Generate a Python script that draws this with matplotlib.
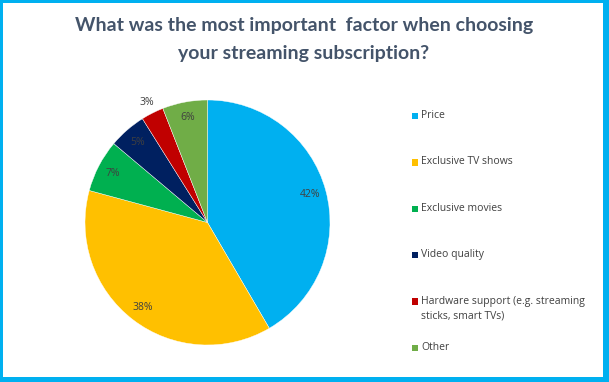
import numpy as np
import matplotlib.pyplot as plt
from matplotlib.patches import Rectangle

# data
factors = ['Price', 'Exclusive TV shows', 'Exclusive movies', 'Video quality',
           'Hardware support (e.g. streaming\nsticks, smart TVs)', 'Other']
shares = [42, 38, 7, 5, 3, 6]
colors = ['#00B0F0', '#FFC000', '#00B050', '#002060', '#C00000', '#70AD47']

W, H = 609, 382
fig = plt.figure(figsize=(W / 100, H / 100), dpi=100)
fig.patch.set_facecolor('#00B0F0')
bg = fig.add_axes([3 / W, 5 / H, 600 / W, 374 / H], zorder=-10)
bg.set_facecolor('white')
bg.set_xticks([])
bg.set_yticks([])
for s in bg.spines.values():
    s.set_visible(False)

# title
fig.text(304 / W, 1 - 26 / H, 'What was the most important  factor when choosing',
         ha='center', va='center', fontsize=14, fontweight='bold', color='#44546A', family='Lato')
fig.text(304 / W, 1 - 54 / H, 'your streaming subscription?',
         ha='center', va='center', fontsize=14, fontweight='bold', color='#44546A', family='Lato')

# pie
cx, cy, r = 207.5, 222.5, 122.5
ax = fig.add_axes([(cx - r) / W, (H - cy - r) / H, 2 * r / W, 2 * r / H])
wedges, texts, autotexts = ax.pie(shares, colors=colors, startangle=90, counterclock=False,
                                  autopct='%1.0f%%', pctdistance=0.87,
                                  wedgeprops=dict(linewidth=0.3, edgecolor='white'),
                                  textprops=dict(fontsize=7.5, color='#404040', family='Open Sans'))
for t, v in zip(autotexts, shares):
    t.set_text(f'{v}%')
# the small slice label sits outside
w = wedges[4]
ang = np.deg2rad((w.theta1 + w.theta2) / 2)
autotexts[4].set_position((1.1 * np.cos(ang), 1.1 * np.sin(ang)))
ax.set_xlim(-1, 1)
ax.set_ylim(-1, 1)
ax.set_aspect('equal')
ax.axis('off')

# legend, evenly spaced like the original
leg_y = 116
for name, c in zip(factors, colors):
    y = 1 - leg_y / H
    fig.patches.append(Rectangle((412 / W, y - 3.2 / H), 6.5 / W, 6.5 / H,
                                 transform=fig.transFigure, facecolor=c, edgecolor='none'))
    fig.text(421 / W, y + 6 / H, name, ha='left', va='top', fontsize=7.5,
             color='#404040', family='Open Sans', linespacing=1.45)
    leg_y += 46.4

fig.savefig('out.png', dpi=100, facecolor=fig.get_facecolor())
